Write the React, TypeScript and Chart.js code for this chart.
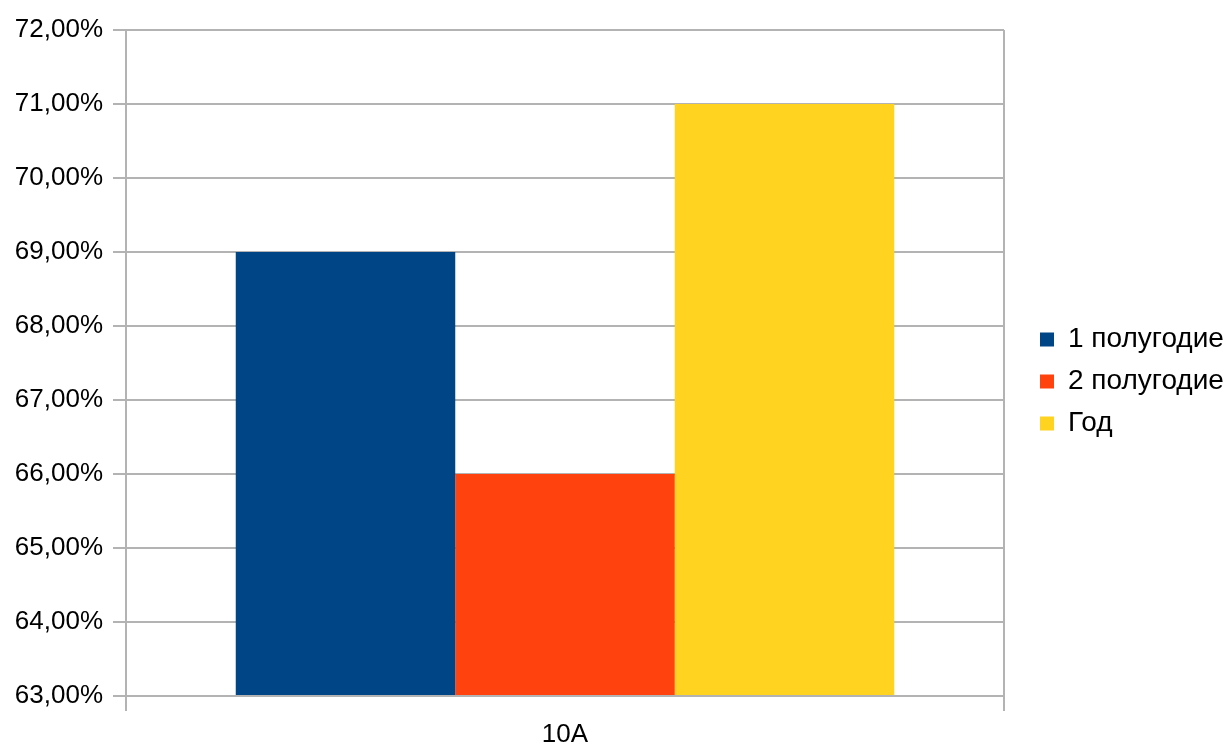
import React, { useEffect, useRef } from "react";
import { Chart, registerables } from "chart.js";

Chart.register(...registerables);

const categories = ["10A"];
const seriesNames = ["1 полугодие", "2 полугодие", "Год"];
const series1 = [0.69];
const series2 = [0.66];
const series3 = [0.71];
const seriesColors = ["#004586", "#ff420e", "#ffd320"];
const yMin = 0.63;
const yMax = 0.72;
const yStep = 0.01;

const FONT = "'Liberation Sans', Arial, sans-serif";

const legendShift = {
  id: "legendShift",
  afterLayout(chart: any) {
    const l = chart.legend;
    if (l) {
      l.top -= 7;
      l.bottom -= 7;
    }
  },
};

export default function App() {
  const ref = useRef<HTMLCanvasElement | null>(null);

  useEffect(() => {
    document.body.style.margin = "0";
    const canvas = ref.current;
    if (!canvas) return;
    const chart = new Chart(canvas, {
      type: "bar",
      data: {
        labels: categories,
        datasets: [series1, series2, series3].map((d, i) => ({
          label: seriesNames[i],
          data: d,
          backgroundColor: seriesColors[i],
          borderWidth: 0,
          categoryPercentage: 0.75,
          barPercentage: 1,
          base: yMin,
        })),
      },
      plugins: [legendShift],
      options: {
        animation: false,
        responsive: false,
        maintainAspectRatio: false,
        layout: { padding: { top: 30, left: 0, right: 0, bottom: 0 } },
        plugins: {
          tooltip: { enabled: false },
          legend: {
            position: "right",
            maxWidth: 203,
            labels: {
              boxWidth: 14,
              boxHeight: 14,
              padding: 14,
              color: "#000",
              font: { family: FONT, size: 28 },
            },
          },
        },
        scales: {
          x: {
            grid: {
              color: "#b3b3b3",
              lineWidth: 2,
              tickLength: 15,
              offset: true,
            },
            border: { color: "#b3b3b3", width: 2 },
            ticks: {
              color: "#000",
              padding: 8,
              font: { family: FONT, size: 26 },
            },
            afterFit: (s: any) => {
              s.height = 51;
            },
          },
          y: {
            min: yMin,
            max: yMax,
            grid: { color: "#b3b3b3", lineWidth: 2, tickLength: 13 },
            border: { color: "#b3b3b3", width: 2 },
            ticks: {
              stepSize: yStep,
              color: "#000",
              padding: 10,
              font: { family: FONT, size: 26 },
              callback: (v: any) =>
                (Number(v) * 100).toFixed(2).replace(".", ",") + "%",
            },
            afterFit: (s: any) => {
              s.width = 126;
            },
          },
          gap: {
            type: "linear",
            position: "right",
            display: true,
            grid: { display: false, drawTicks: false },
            border: { display: false },
            ticks: { display: false },
            afterFit: (s: any) => {
              s.width = 22;
            },
          },
        },
      },
    });
    return () => chart.destroy();
  }, []);

  return (
    <div style={{ width: 1229, height: 747, position: "relative" }}>
      <canvas ref={ref} width={1229} height={747} style={{ display: "block" }} />
    </div>
  );
}
